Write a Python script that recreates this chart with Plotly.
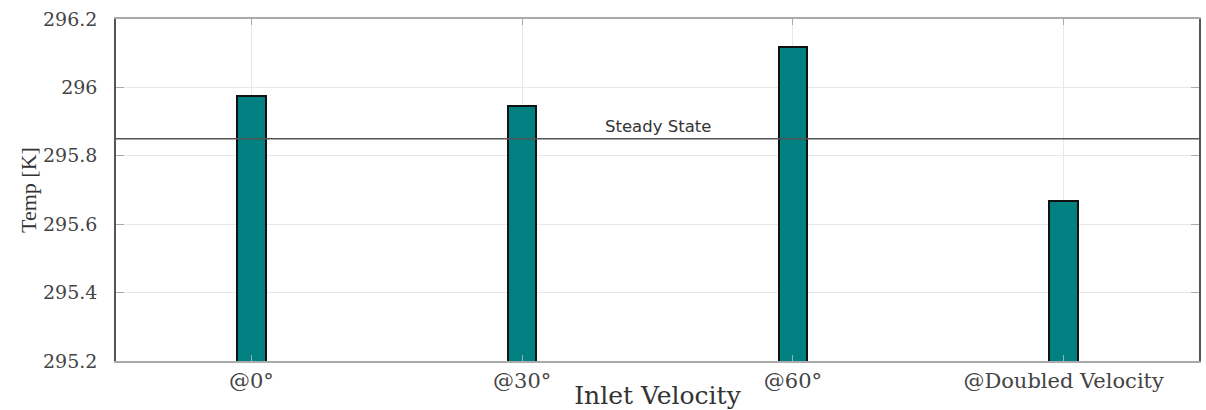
import plotly.graph_objects as go

# Inlet configurations and measured temperatures
categories = ["@0°", "@30°", "@60°", "@Doubled Velocity"]
temps_k = [295.976, 295.946, 296.119, 295.668]
steady_state_k = 295.85
y_ticks = [295.2, 295.4, 295.6, 295.8, 296.0, 296.2]
y_tick_labels = ["295.2", "295.4", "295.6", "295.8", "296", "296.2"]

positions = list(range(1, len(categories) + 1))

wide_serif = "DejaVu Serif, serif"
serif = "Liberation Serif, Times New Roman, serif"

fig = go.Figure()
fig.add_trace(go.Bar(
    x=positions,
    y=temps_k,
    width=0.105,
    marker=dict(color="#008080", line=dict(color="#111111", width=2)),
    showlegend=False,
))

# Steady-state reference line across the full plot width
fig.add_shape(type="line", xref="paper", x0=0, x1=1, yref="y",
              y0=steady_state_k, y1=steady_state_k,
              line=dict(color="#555555", width=1.6))
fig.add_annotation(x=2.5, y=steady_state_k, text="Steady State",
                   showarrow=False, yanchor="bottom", yshift=1,
                   font=dict(family="DejaVu Sans, sans-serif",
                             size=16.5, color="#333333"))

fig.update_layout(
    width=1206, height=410,
    margin=dict(l=116, r=7, t=19, b=49),
    paper_bgcolor="white", plot_bgcolor="white",
    bargap=0,
)
fig.update_xaxes(
    range=[0.5, 4.5],
    automargin=False,
    tickvals=positions, ticktext=categories,
    tickfont=dict(family=wide_serif, size=21, color="#444444"),
    showgrid=True, gridcolor="#e8e8e8", gridwidth=1,
    showline=True, linecolor="#aaaaaa", linewidth=1.5, mirror="ticks",
    ticks="inside", ticklen=6, tickcolor="#aaaaaa",
    ticklabelstandoff=0,
    title=dict(text="Inlet Velocity", standoff=4,
               font=dict(family=wide_serif, size=25, color="#333333")),
    zeroline=False,
)
fig.update_yaxes(
    range=[295.2, 296.2],
    automargin=False,
    tickvals=y_ticks, ticktext=y_tick_labels,
    tickfont=dict(family=wide_serif, size=19, color="#444444"),
    showgrid=True, gridcolor="#e8e8e8", gridwidth=1,
    showline=True, linecolor="#555555", linewidth=1.5, mirror="ticks",
    ticks="inside", ticklen=8, tickcolor="#aaaaaa",
    ticklabelstandoff=13,
    title=dict(text="Temp [K]", standoff=0,
               font=dict(family=serif, size=22, color="#333333")),
    zeroline=False,
)

fig.write_html("out.html")
